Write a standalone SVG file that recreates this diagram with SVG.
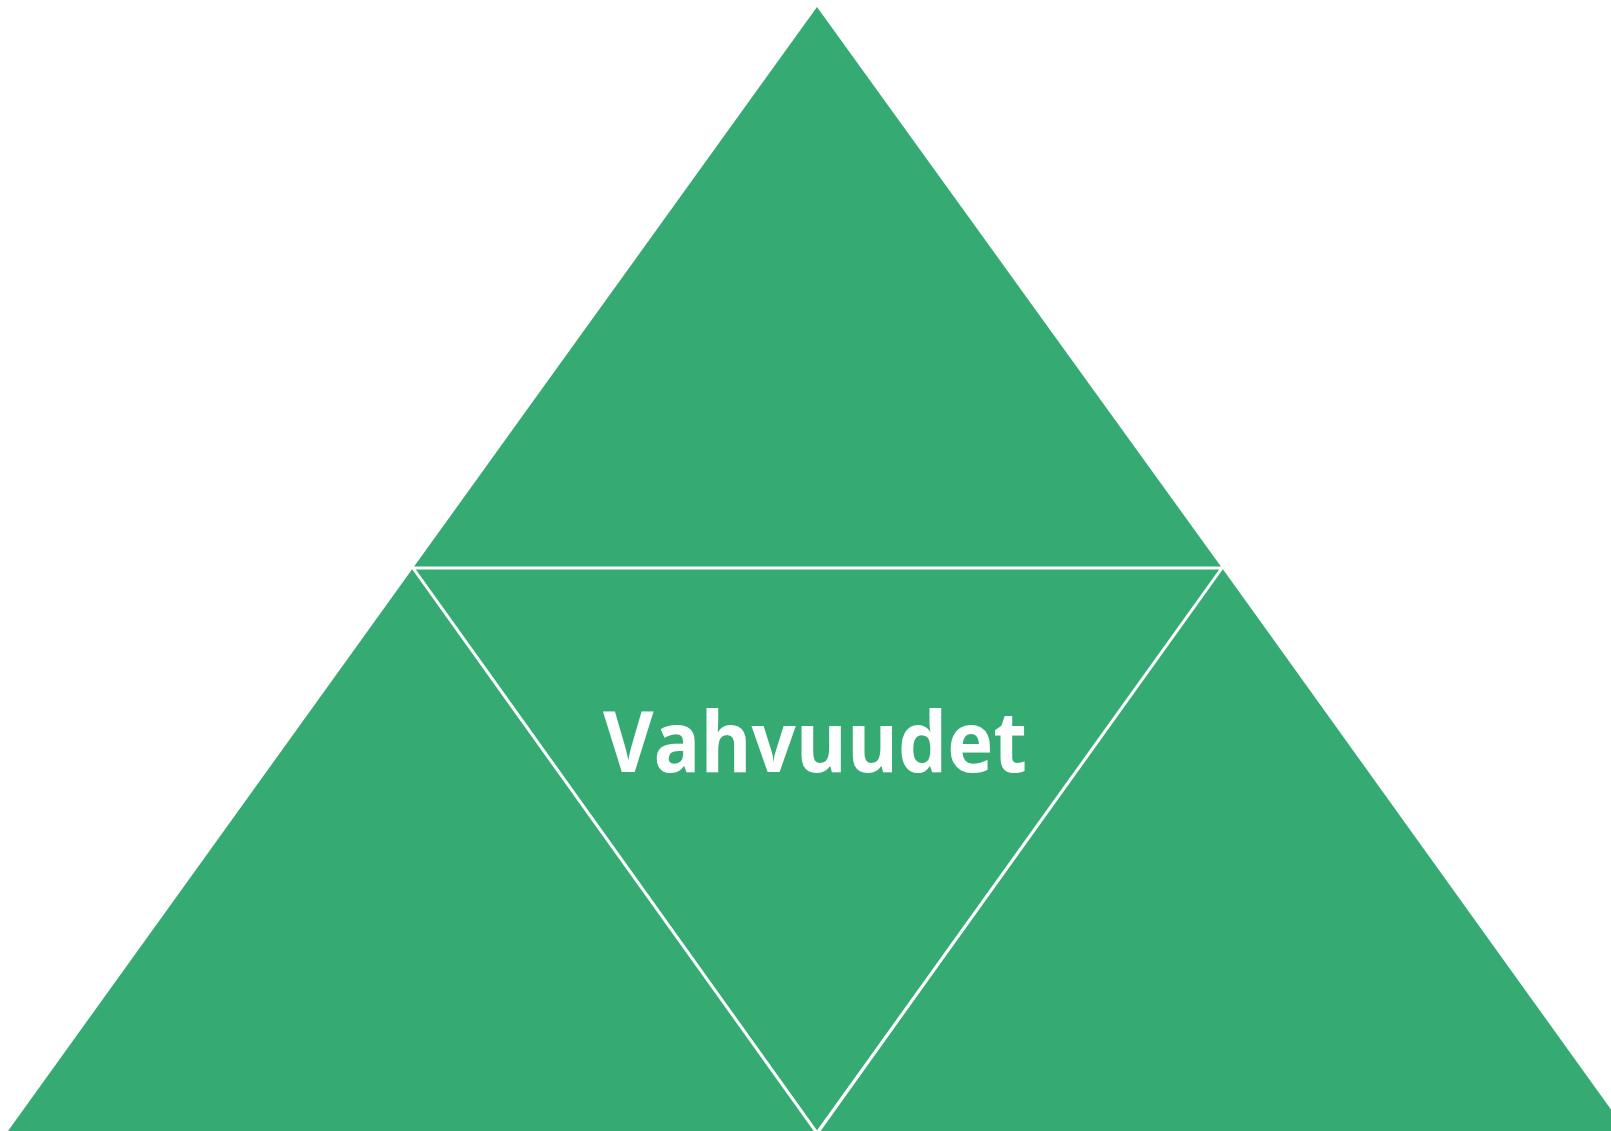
<svg xmlns="http://www.w3.org/2000/svg" width="1611" height="1131" viewBox="0 0 1611 1131">
<style>
.tri{fill:#35AB73;stroke:none}
.sep{stroke:#FFFFFF;stroke-width:3;fill:none;stroke-linecap:butt}
.lbl{font-family:"Open Sans",Lato,"Liberation Sans",sans-serif;font-weight:bold;font-size:84px;fill:#FFFFFF}
</style>
<rect width="1611" height="1131" fill="#FFFFFF"/>
<g id="top"><polygon class="tri" points="817,7 1222,568 413,568"/></g>
<g id="left"><polygon class="tri" points="413,568 817,1131 817,1135 6,1135 8,1131"/></g>
<g id="right"><polygon class="tri" points="1222,568 1630,1136 817,1136"/></g>
<g id="center"><polygon class="tri" points="413,568 1222,568 817,1131"/>
<text class="lbl" x="815" y="772" text-anchor="middle" textLength="424" lengthAdjust="spacingAndGlyphs">Vahvuudet</text></g>
<g id="connectors">
<line class="sep" x1="413" y1="568" x2="1222" y2="568"/>
<line class="sep" x1="413" y1="568" x2="817" y2="1133"/>
<line class="sep" x1="1222" y1="568" x2="817" y2="1133"/>
</g>
</svg>
